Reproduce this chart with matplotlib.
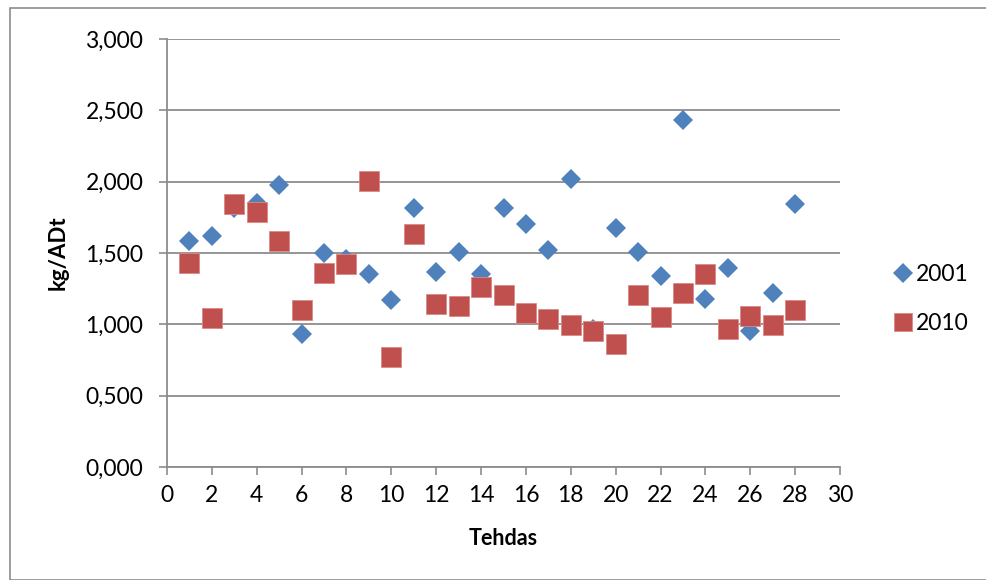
import matplotlib
matplotlib.use("Agg")
import matplotlib.pyplot as plt
from matplotlib.ticker import FuncFormatter
import matplotlib.patches as mpatches

plants = list(range(1, 29))
y2001 = [1.584, 1.619, 1.815, 1.85, 1.98, 0.93, 1.50, 1.46, 1.35, 1.17,
         1.815, 1.37, 1.51, 1.35, 1.815, 1.70, 1.52, 2.02, 0.97, 1.675,
         1.51, 1.34, 2.43, 1.18, 1.395, 0.95, 1.22, 1.84]
y2010 = [1.43, 1.045, 1.845, 1.79, 1.584, 1.10, 1.36, 1.42, 2.005, 0.77,
         1.63, 1.14, 1.13, 1.26, 1.205, 1.08, 1.04, 0.995, 0.95, 0.86,
         1.205, 1.05, 1.22, 1.35, 0.965, 1.06, 0.995, 1.10]
series_names = ["2001", "2010"]
x_ticks = list(range(0, 31, 2))
y_ticks = [0, 0.5, 1.0, 1.5, 2.0, 2.5, 3.0]

plt.rcParams['font.family'] = ['Lato', 'DejaVu Sans']

fig = plt.figure(figsize=(9.86, 5.8), dpi=100)
ax = fig.add_axes([167/986, 1-467/580, (840-167)/986, (467-39)/580])

blue = '#4F81BD'
red = '#C0504D'
ax.plot(plants, y2001, linestyle='none', marker='D', markersize=10.3,
        color=blue, markeredgewidth=0, label=series_names[0], zorder=3)
ax.plot(plants, y2010, linestyle='none', marker='s', markersize=14,
        color=red, markeredgecolor='#D98A88', markeredgewidth=0.6,
        label=series_names[1], zorder=3)

ax.set_xlim(0, 30)
ax.set_ylim(0, 3.0)
ax.set_xticks(x_ticks)
ax.set_yticks(y_ticks)
ax.yaxis.set_major_formatter(FuncFormatter(lambda v, p: f"{v:.3f}".replace('.', ',')))
ax.grid(axis='y', color='#8C8C8C', linewidth=1.3)
ax.set_axisbelow(True)
for s in ['top', 'right']:
    ax.spines[s].set_visible(False)
for s in ['left', 'bottom']:
    ax.spines[s].set_color('#8C8C8C')
    ax.spines[s].set_linewidth(1.3)
ax.tick_params(axis='both', colors='#8C8C8C', labelcolor='black', labelsize=16.5,
               length=6, width=1.2, direction='out')
ax.tick_params(axis='x', pad=7)
ax.tick_params(axis='y', pad=11)
ax.set_xlabel('Tehdas', fontsize=15.5, fontweight='bold', labelpad=16)
ax.set_ylabel('kg/ADt', fontsize=16, fontweight='bold', labelpad=12)

leg = ax.legend(loc='center left', bbox_to_anchor=(1.06, 0.393), frameon=False,
                fontsize=16.5, handletextpad=0.05, labelspacing=1.2,
                handlelength=1.0, markerscale=0.95, borderpad=0)

# outer chart border
border = mpatches.Rectangle((10/986, 0), 1.2, 1 - 8/580, transform=fig.transFigure,
                            fill=False, edgecolor='#8C8C8C', linewidth=1.2)
fig.patches.append(border)

fig.savefig('out.png', dpi=100)
